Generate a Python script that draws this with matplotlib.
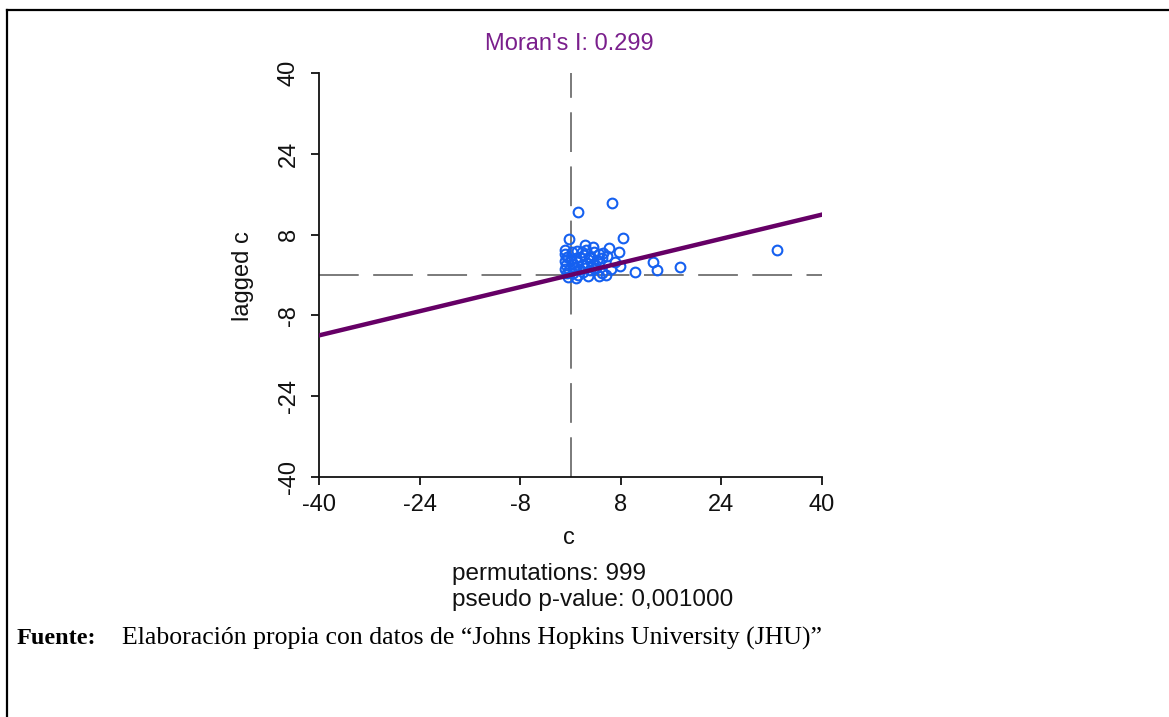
import numpy as np
import matplotlib
matplotlib.use('Agg')
import matplotlib.pyplot as plt
from matplotlib.lines import Line2D

# ##############################################################################
# values (standardised c vs. spatial lag)
moran_i = 0.299
permutations = 999
p_value = '0,001000'

c_vals = [1.2, 6.6, -0.2, 8.4, 2.3, 6.2, 7.7, 32.8, 13.1, 13.8, 17.4, 10.3,
          -0.9, 5.2, 3.3, 7.8, 5.0,
          -0.8, -0.5, 0.3, 1.0, 1.8, 2.5, 3.8, 4.5,
          -0.9, 0.0, 0.8, 1.5, 2.2, 3.0, 4.2, 5.0, 5.8,
          -0.7, 0.2, 1.0, 1.8, 2.6, 3.5, 4.6,
          -0.9, -0.2, 0.6, 1.4, 2.3, 3.1, 4.0,
          -0.6, 0.4, 1.2, 2.0, 2.8, 4.6, 5.6,
          -0.4, 0.8, 6.4, 7.0, 3.6]
lagged_c = [12.4, 14.3, 7.1, 7.4, 5.9, 5.3, 4.6, 4.9, 2.5, 1.0, 1.6, 0.5,
            5.0, 4.3, 3.3, 1.8, 0.3,
            4.2, 3.5, 4.5, 4.8, 4.6, 5.0, 4.6, 4.2,
            2.8, 3.0, 3.3, 3.6, 3.9, 3.5, 3.0, 3.4, 3.8,
            2.0, 2.2, 2.5, 2.0, 2.4, 2.2, 2.6,
            1.2, 1.0, 1.5, 1.1, 1.3, 0.9, 1.3,
            0.3, 0.4, 0.0, 0.5, -0.2, -0.1, 0.0,
            -0.4, -0.5, 1.2, 2.6, 5.5]

ticks = [-40, -24, -8, 8, 24, 40]

# ##############################################################################
W, H = 1169, 717
def fx(px):
    return px / W
def fy(py):
    return 1.0 - py / H

plt.rcParams['font.family'] = ['Liberation Sans', 'DejaVu Sans']
fs = 17
txtcol = '#111111'

fig = plt.figure(figsize=(W / 100, H / 100), dpi=100)
ax = fig.add_axes([fx(319), fy(477), (822 - 319) / W, (477 - 73) / H])

# mean lines
ax.axhline(0, color='#707070', lw=1.3, dashes=(22, 8), zorder=1)
ax.axvline(0, color='#707070', lw=1.3, dashes=(22, 8), zorder=1)

ax.plot(c_vals, lagged_c, 'o', mfc='none', mec='#1560f0', ms=7, mew=1.5,
        zorder=2)

ax.set_xlim(-40, 40)
ax.set_ylim(-40, 40)
xs = np.array(ax.get_xlim())
ax.plot(xs, moran_i * xs, color='#660066', lw=3.2, zorder=3)

ax.set_xticks(ticks)
ax.set_yticks(ticks)
ax.set_xticklabels([str(t) for t in ticks])
ax.set_yticklabels([str(t) for t in ticks], rotation=90, va='center')
ax.tick_params(direction='out', length=6, width=1.3, labelsize=fs,
               colors=txtcol)
ax.tick_params(axis='x', pad=6)
ax.tick_params(axis='y', pad=8)
for side in ['top', 'right']:
    ax.spines[side].set_visible(False)
for side in ['left', 'bottom']:
    ax.spines[side].set_linewidth(1.3)
    ax.spines[side].set_color(txtcol)

# texts
fig.text(fx(569), fy(44), "Moran's I: 0.299", color='#7a1f8c', fontsize=fs,
         ha='center', va='center')
fig.text(fx(569), fy(538), 'c', fontsize=fs, ha='center', va='center',
         color=txtcol)
fig.text(fx(243), fy(276), 'lagged c', fontsize=fs, ha='center', va='center',
         rotation=90, color=txtcol)
fig.text(fx(452), fy(574), f'permutations: {permutations}', fontsize=17.5,
         ha='left', va='center', color=txtcol)
fig.text(fx(452), fy(600), f'pseudo p-value: {p_value}', fontsize=17.5,
         ha='left', va='center', color=txtcol)

fig.text(fx(17), fy(638), 'Fuente:', fontsize=17.5, fontweight='bold',
         family='Liberation Serif', ha='left', va='center')
fig.text(fx(122), fy(638),
         'Elaboración propia con datos de “Johns Hopkins University (JHU)”',
         fontsize=18.5, family='Liberation Serif', ha='left', va='center')

# frame round the figure
fig.add_artist(Line2D([fx(7), fx(7)], [0, fy(10)], color='black', lw=1.6))
fig.add_artist(Line2D([fx(7), 1], [fy(10), fy(10)], color='black', lw=1.6))

plt.savefig('out.png', dpi=100)
